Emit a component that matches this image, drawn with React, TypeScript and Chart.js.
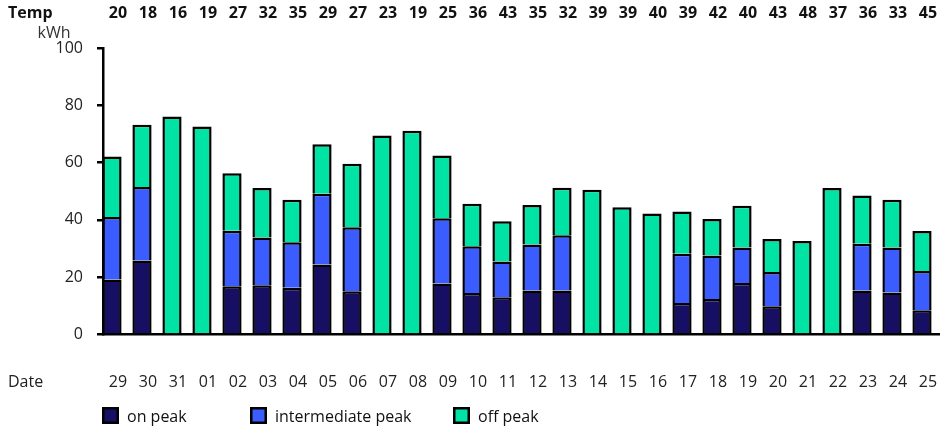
import React, { useEffect, useRef } from "react";
import { Chart, registerables } from "chart.js";

Chart.register(...registerables);

const dates = ["29","30","31","01","02","03","04","05","06","07","08","09","10","11","12","13","14","15","16","17","18","19","20","21","22","23","24","25"];
const temps = [20,18,16,19,27,32,35,29,27,23,19,25,36,43,35,32,39,39,40,39,42,40,43,48,37,36,33,45];
const onPeak = [19.2,25.8,null,null,16.8,17.2,16.3,24.4,15.1,null,null,17.8,14.5,13.0,15.4,15.4,null,null,null,11.0,12.4,18.0,9.9,null,null,15.4,14.7,8.5];
const intermediatePeak = [21.8,25.7,null,null,19.4,16.7,15.9,24.7,22.3,null,null,22.8,16.3,12.5,16.0,19.2,null,null,null,17.2,15.2,12.4,11.9,null,null,16.3,15.7,13.7];
const offPeak = [21.1,21.7,76.1,72.6,20.1,17.2,14.8,17.3,22.2,69.5,71.1,21.9,14.8,14.0,13.8,16.6,50.5,44.4,42.2,14.7,12.7,14.5,11.5,32.6,51.1,16.8,16.6,13.9];
const yTicks = [0, 20, 40, 60, 80, 100];
const seriesNames = ["on peak", "intermediate peak", "off peak"];
const seriesColors = ["#170f63", "#3b5cff", "#00e3a4"];
const legendX = [102, 250, 453];

const FONT = "'Open Sans', 'Noto Sans', sans-serif";

export default function App() {
  const ref = useRef<HTMLCanvasElement | null>(null);
  useEffect(() => {
    const canvas = ref.current;
    if (!canvas) return;
    const overlay = {
      id: "overlay",
      afterDraw(chart: any) {
        const ctx = chart.ctx;
        const xs = chart.scales.x;
        ctx.save();
        ctx.fillStyle = "#111";
        ctx.textBaseline = "middle";
        // Temp row
        ctx.font = `bold 16px ${FONT}`;
        ctx.textAlign = "left";
        ctx.fillText("Temp", 8, 13);
        ctx.textAlign = "center";
        temps.forEach((t, i) => ctx.fillText(String(t), xs.getPixelForValue(i) + 6, 13));
        // kWh
        ctx.font = `16px ${FONT}`;
        ctx.fillStyle = "#333";
        ctx.textAlign = "center";
        ctx.fillText("kWh", 54, 33);
        // Date row
        ctx.fillStyle = "#222";
        ctx.textAlign = "left";
        ctx.fillText("Date", 8, 382);
        ctx.textAlign = "center";
        dates.forEach((d, i) => ctx.fillText(d, xs.getPixelForValue(i) + 6, 382));
        // legend
        seriesNames.forEach((name, i) => {
          const x = legendX[i];
          ctx.fillStyle = seriesColors[i];
          ctx.fillRect(x, 407, 17, 17);
          ctx.strokeStyle = "#000";
          ctx.lineWidth = 2.5;
          ctx.strokeRect(x + 1.25, 408.25, 14.5, 14.5);
          ctx.fillStyle = "#111";
          ctx.textAlign = "left";
          ctx.fillText(name, x + 25, 417);
        });
        ctx.restore();
      },
    };
    const mk = (label: string, data: (number | null)[], color: string) => ({
      label,
      data: data.map((v, i) => ({ x: i, y: v })),
      backgroundColor: color,
      borderColor: "#000",
      borderWidth: 2.5,
      borderSkipped: "start" as const,
      barPercentage: 0.64,
      categoryPercentage: 1,
    });
    const chart = new Chart(canvas, {
      type: "bar",
      data: {
        datasets: [
          mk(seriesNames[0], onPeak, seriesColors[0]),
          mk(seriesNames[1], intermediatePeak, seriesColors[1]),
          mk(seriesNames[2], offPeak, seriesColors[2]),
        ],
      },
      options: {
        responsive: false,
        animation: false,
        layout: { padding: { left: 0, right: 0, top: 48, bottom: 94.5 } },
        plugins: { legend: { display: false }, tooltip: { enabled: false } },
        scales: {
          x: {
            type: "linear",
            stacked: true,
            offset: false,
            min: -0.3,
            max: 27.6,
            ticks: { display: false },
            grid: { display: false, drawTicks: false },
            border: { display: true, color: "#000", width: 2.5 },
            afterFit: (s: any) => { s.height = 0; },
          },
          y: {
            stacked: true,
            min: 0,
            max: 100,
            afterBuildTicks: (s: any) => { s.ticks = yTicks.map((v) => ({ value: v })); },
            ticks: { color: "#222", font: { family: FONT, size: 16 }, padding: 14 },
            grid: { drawOnChartArea: false, drawTicks: true, tickLength: 6, color: "#000", lineWidth: 2.5 },
            border: { display: true, color: "#000", width: 2.5 },
            afterFit: (s: any) => { s.width = 103; },
          },
        },
      },
      plugins: [overlay],
    });
    return () => chart.destroy();
  }, []);
  return (
    <div style={{ position: "fixed", left: 0, top: 0, width: 940, height: 429, background: "#fff" }}>
      <canvas ref={ref} width={940} height={429} />
    </div>
  );
}
